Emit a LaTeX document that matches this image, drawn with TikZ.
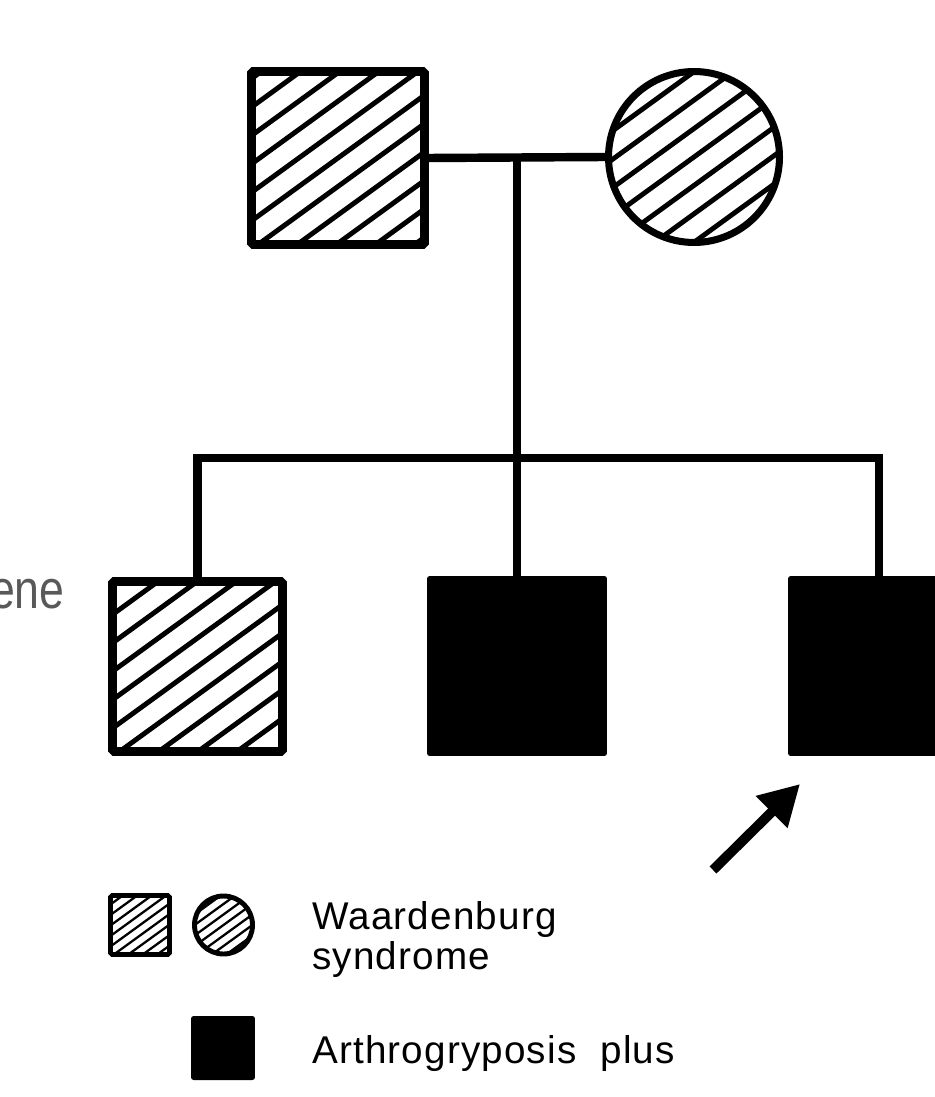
\documentclass[tikz,border=0pt]{standalone}
\usepackage{fontspec}
\setmainfont{Liberation Sans}
\usetikzlibrary{arrows.meta}
% #1 spacing (px), #2 count, #3 half length (px), #4 line width
\newcommand\myhatch[4]{%
  \foreach \k in {-#2,...,#2}{%
    \draw[line width=#4, line cap=butt, shift={(path picture bounding box.center)}]
      ({\k*#1*0.5878-#3*0.809},{\k*#1*0.809+#3*0.5878}) --
      ({\k*#1*0.5878+#3*0.809},{\k*#1*0.809-#3*0.5878});
  }}
\begin{document}
\begin{tikzpicture}[x=0.02cm,y=-0.02cm,
  conn/.style={line width=4.8pt, line join=miter, line cap=butt},
  hsq/.style={draw, line width=5pt, minimum size=3.46cm, rounded corners=1pt, inner sep=0pt},
  hci/.style={draw, circle, line width=4pt, minimum size=3.42cm, inner sep=0pt},
  blk/.style={fill=black, rounded corners=1.5pt, minimum size=3.6cm, inner sep=0pt, outer sep=0pt},
  bighatch/.style={path picture={\myhatch{23}{8}{140}{2.8pt}}},
  smallhatch/.style={path picture={\myhatch{8.5}{7}{50}{1.3pt}}},
  legtext/.style={font=\fontsize{22}{22.8}\selectfont\addfontfeature{LetterSpace=3}, inner sep=0pt, align=left}]
\useasboundingbox (0,0) rectangle (934,1097);

% generation I
\node[hsq, bighatch] (father) at (338,158) {};
\node[hci, bighatch] (mother) at (694,157) {};

% generation II
\node[hsq, minimum size=3.4cm, bighatch] (c1) at (197.5,666.5) {};
\node[blk] (c2) at (517,666) {};
\node[blk] (c3) at (878,666) {};

% connectors
\draw[conn] (father.east) -- coordinate[midway] (m) (mother.west);
\coordinate (sib) at (0,458);
\draw[conn] (m) -- (m |- c2.north);
\draw[conn] (c1.north) -- (c1.north |- sib) -- ([xshift=0.02cm]c3.north |- sib) -- ([xshift=0.02cm]c3.north);

% proband arrow
\coordinate (atip) at ([shift={(12,28)}]c3.south west);
\coordinate (atail) at (713,870);
\draw[line width=5.6pt, -{Triangle[length=0.8cm,width=0.85cm]}] (atail) -- (atip);

% cut-off text on the left
\node[anchor=base east, inner sep=0pt, text=black!65, font=\fontsize{31}{38}\selectfont] (gene) at (65,608) {\scalebox{0.82}[1]{ene}};

% legend
\node[hsq, line width=2.8pt, minimum size=1.18cm, smallhatch] (lsq) at (140,925) {};
\node[hci, line width=2.8pt, minimum size=1.16cm, smallhatch] (lci) at (223.5,925) {};
\node[blk, minimum size=1.28cm] (lblk) at (223,1048) {};
\node[legtext, anchor=north west] (lt1) at (312,901) {Waardenburg\\syndrome};
\node[legtext, anchor=base west] (lt2) at (312,1063) {Arthrogryposis~~plus};
\end{tikzpicture}
\end{document}
